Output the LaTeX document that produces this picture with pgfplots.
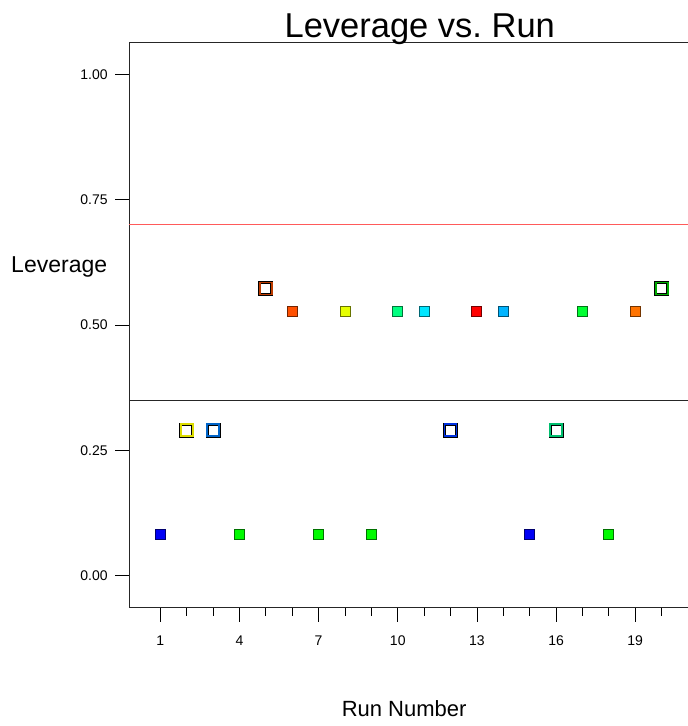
\documentclass[border=0pt]{standalone}
\usepackage{fontspec}
\setmainfont{Liberation Sans}
\usepackage{pgfplots}
\pgfplotsset{compat=1.18}

\definecolor{cBlue}{RGB}{0,0,245}
\definecolor{cGreen}{RGB}{0,250,0}
\definecolor{cOrRed}{RGB}{255,80,0}
\definecolor{cYellow}{RGB}{230,255,0}
\definecolor{cSpring}{RGB}{0,255,128}
\definecolor{cCyan}{RGB}{0,230,255}
\definecolor{cRed}{RGB}{255,0,0}
\definecolor{cSky}{RGB}{0,180,255}
\definecolor{cGreenB}{RGB}{0,255,50}
\definecolor{cOrange}{RGB}{255,115,0}
\definecolor{oYellow}{RGB}{220,220,0}
\definecolor{oBlueA}{RGB}{0,100,200}
\definecolor{oBlueB}{RGB}{0,50,225}
\definecolor{oGreenA}{RGB}{0,190,110}
\definecolor{oBrown}{RGB}{190,60,0}
\definecolor{oGreenB}{RGB}{0,170,0}
\definecolor{refRed}{RGB}{255,90,90}

\pgfplotsset{
  filled/.style={only marks, mark=square*, mark size=5pt,
    mark options={fill=#1, draw=#1!45!black, line width=1pt}},
  openback/.style={only marks, mark=square*, mark size=6pt,
    mark options={fill=white, draw=black, line width=3pt}},
  openfront/.style={only marks, mark=square, mark size=6pt,
    mark options={draw=#1, line width=1.8pt}},
}

\begin{document}
\begin{tikzpicture}[x=1pt,y=1pt]
\begin{axis}[
  scale only axis, width=558.8pt, height=565.2pt,
  xmin=-0.18, xmax=21, ymin=-0.0637, ymax=1.0645,
  axis x line*=bottom, axis y line*=left,
  axis line style={-, line width=1pt, black!85},
  xtick={1,4,7,10,13,16,19},
  minor xtick={2,3,5,6,8,9,11,12,14,15,17,18,20},
  ytick={0,0.25,0.5,0.75,1},
  xtick pos=lower, ytick pos=left,
  tick align=outside, major tick length=14pt, minor tick length=8pt,
  tick style={line width=0.8pt, black},
  /pgf/number format/assume math mode=true,
  ticklabel style={font=\fontsize{14}{16}\selectfont},
  xticklabel style={yshift=-11pt},
  yticklabel style={xshift=-4pt, /pgf/number format/.cd, fixed, fixed zerofill, precision=2},
  clip=false,
]
\draw[line width=1pt, black!85] (rel axis cs:0,1) -- (rel axis cs:1,1);
\coordinate (SW) at (rel axis cs:0,0);
\coordinate (NE) at (rel axis cs:1,1);

% reference lines
\addplot[refRed, line width=0.9pt] coordinates {(-0.18,0.7) (21,0.7)};
\addplot[black!85, line width=1.1pt] coordinates {(-0.18,0.35) (21,0.35)};

% filled points
\addplot[filled=cBlue] coordinates {(1,0.083) (15,0.083)};
\addplot[filled=cGreen] coordinates {(4,0.083) (7,0.083) (9,0.083) (18,0.083)};
\addplot[filled=cOrRed] coordinates {(6,0.528)};
\addplot[filled=cYellow] coordinates {(8,0.528)};
\addplot[filled=cSpring] coordinates {(10,0.528)};
\addplot[filled=cCyan] coordinates {(11,0.528)};
\addplot[filled=cRed] coordinates {(13,0.528)};
\addplot[filled=cSky] coordinates {(14,0.528)};
\addplot[filled=cGreenB] coordinates {(17,0.528)};
\addplot[filled=cOrange] coordinates {(19,0.528)};

% open points
\addplot[openback] coordinates {(2,0.290) (3,0.290) (12,0.290) (16,0.290) (5,0.573) (20,0.573)};
\addplot[openfront=oYellow] coordinates {(2,0.290)};
\addplot[openfront=oBlueA] coordinates {(3,0.290)};
\addplot[openfront=oBlueB] coordinates {(12,0.290)};
\addplot[openfront=oGreenA] coordinates {(16,0.290)};
\addplot[openfront=oBrown] coordinates {(5,0.573)};
\addplot[openfront=oGreenB] coordinates {(20,0.573)};

% titles
\node[anchor=base, font=\fontsize{34.5}{40}\selectfont] at ([yshift=4.3pt]rel axis cs:0.52,1) {Leverage vs.\ Run};
\node[anchor=base, font=\fontsize{23}{27}\selectfont] at ([xshift=-70pt]rel axis cs:0,0.592) {Leverage};
\node[anchor=base, font=\fontsize{22}{26}\selectfont] at ([yshift=-109pt]rel axis cs:0.492,0) {Run Number};
\end{axis}
\pgfresetboundingbox
\path[use as bounding box] ([shift={(-129.2pt,-118.5pt)}]SW) rectangle ([shift={(0pt,42.3pt)}]NE);
\end{tikzpicture}
\end{document}
